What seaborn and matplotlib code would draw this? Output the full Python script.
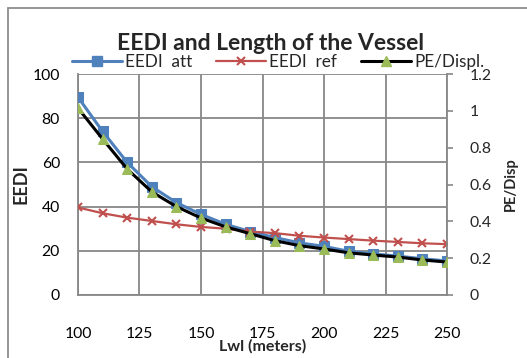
import matplotlib
matplotlib.use("Agg")
import matplotlib.pyplot as plt
import matplotlib.patches as mpatches
from matplotlib.lines import Line2D
import seaborn as sns
import pandas as pd

lwl = [100, 110, 120, 130, 140, 150, 160, 170, 180, 190, 200, 210, 220, 230, 240, 250]
eedi_att = [89.5, 74, 60, 49, 41.8, 36.5, 32, 28.7, 26, 23.6, 22, 19.8, 18.6, 17.6, 16.4, 15.4]
eedi_ref = [39.6, 37, 35, 33.5, 32, 30.8, 30, 28.7, 28, 26.8, 26, 25.3, 24.6, 24, 23.4, 23]
pe_displ = [1.015, 0.847, 0.684, 0.56, 0.48, 0.418, 0.37, 0.333, 0.295, 0.268, 0.25, 0.229, 0.217, 0.206, 0.19, 0.179]

x_ticks = [100, 125, 150, 175, 200, 225, 250]
y_ticks = [0, 20, 40, 60, 80, 100]
y2_ticks = [0, 0.2, 0.4, 0.6, 0.8, 1.0, 1.2]
y2_labels = ["0", "0.2", "0.4", "0.6", "0.8", "1", "1.2"]

df = pd.DataFrame({"Lwl": lwl, "att": eedi_att, "ref": eedi_ref, "pe": pe_displ})

sns.set_style("white")
plt.rcParams["font.family"] = ["Lato", "DejaVu Sans"]

blue = "#4F81BD"
red = "#C0504D"
green = "#9BBB59"
grid_c = "#878787"

fig = plt.figure(figsize=(5.27, 3.58), dpi=100)
ax = fig.add_axes([78 / 527, 1 - 295 / 358, (447 - 78) / 527, (295 - 74) / 358])
ax2 = ax.twinx()

sns.lineplot(data=df, x="Lwl", y="att", ax=ax, color=blue, lw=2.2, marker="s",
             markersize=6.5, markeredgecolor=blue, zorder=3)
sns.lineplot(data=df, x="Lwl", y="ref", ax=ax, color=red, lw=1.6, marker="x",
             markersize=6, markeredgewidth=1.5, markeredgecolor=red, zorder=3)
sns.lineplot(data=df, x="Lwl", y="pe", ax=ax2, color="black", lw=2.2, marker="^",
             markersize=7, markerfacecolor=green, markeredgecolor=green, zorder=3)

ax.set_xlim(100, 250)
ax.set_ylim(0, 100)
ax2.set_ylim(0, 1.2)
ax.set_xticks(x_ticks)
ax.set_xticklabels([str(v) for v in x_ticks])
ax.set_yticks(y_ticks)
ax2.set_yticks(y2_ticks)
ax2.set_yticklabels(y2_labels)

ax.grid(True, color=grid_c, lw=1.3)
ax.set_axisbelow(True)
ax.spines["top"].set_visible(False)
ax2.spines["top"].set_visible(False)
ax.spines["left"].set_color(grid_c)
ax.spines["bottom"].set_color(grid_c)
ax.spines["right"].set_visible(False)
ax2.spines["left"].set_visible(False)
ax2.spines["bottom"].set_visible(False)
ax2.spines["right"].set_color(grid_c)
ax2.spines["right"].set_linewidth(1.3)
ax.spines["left"].set_linewidth(1.3)
ax.spines["bottom"].set_linewidth(1.3)

ax.tick_params(axis="x", length=0, pad=23, labelsize=11.3, colors="black")
ax.tick_params(axis="y", length=0, pad=13, labelsize=11.3, colors="black")
ax2.tick_params(axis="y", length=4, width=1.2, color=grid_c, pad=12, labelsize=11.3)

ax.set_xlabel("Lwl (meters)", fontsize=11.5, fontweight="bold", labelpad=-1)
ax.set_ylabel("EEDI", fontsize=13, fontweight="bold", labelpad=2)
ax2.set_ylabel("PE/Disp", fontsize=10.5, fontweight="bold", labelpad=9)

fig.text(0.513, 1 - 43 / 358, "EEDI and Length of the Vessel", ha="center", va="center",
         fontsize=16.5, fontweight="bold")

handles = [
    Line2D([], [], color=blue, lw=2.2, marker="s", markersize=6.5),
    Line2D([], [], color=red, lw=1.6, marker="x", markersize=6, markeredgewidth=1.5),
    Line2D([], [], color="black", lw=2.2, marker="^", markersize=7,
           markerfacecolor=green, markeredgecolor=green),
]
fig.legend(handles, ["EEDI  att", "EEDI  ref", "PE/Displ."], loc="center",
           bbox_to_anchor=(0.528, 1 - 62 / 358), ncol=3, frameon=False, fontsize=12.3,
           handlelength=2.9, handletextpad=0.2, columnspacing=1.4, borderpad=0)

frame = mpatches.Rectangle((7.5 / 527, -0.1), 1.2, 1 - 8 / 358 + 0.1, transform=fig.transFigure,
                           fill=False, edgecolor="#8c8c8c", lw=1.3)
fig.patches.append(frame)

fig.savefig("out.png", dpi=100)
